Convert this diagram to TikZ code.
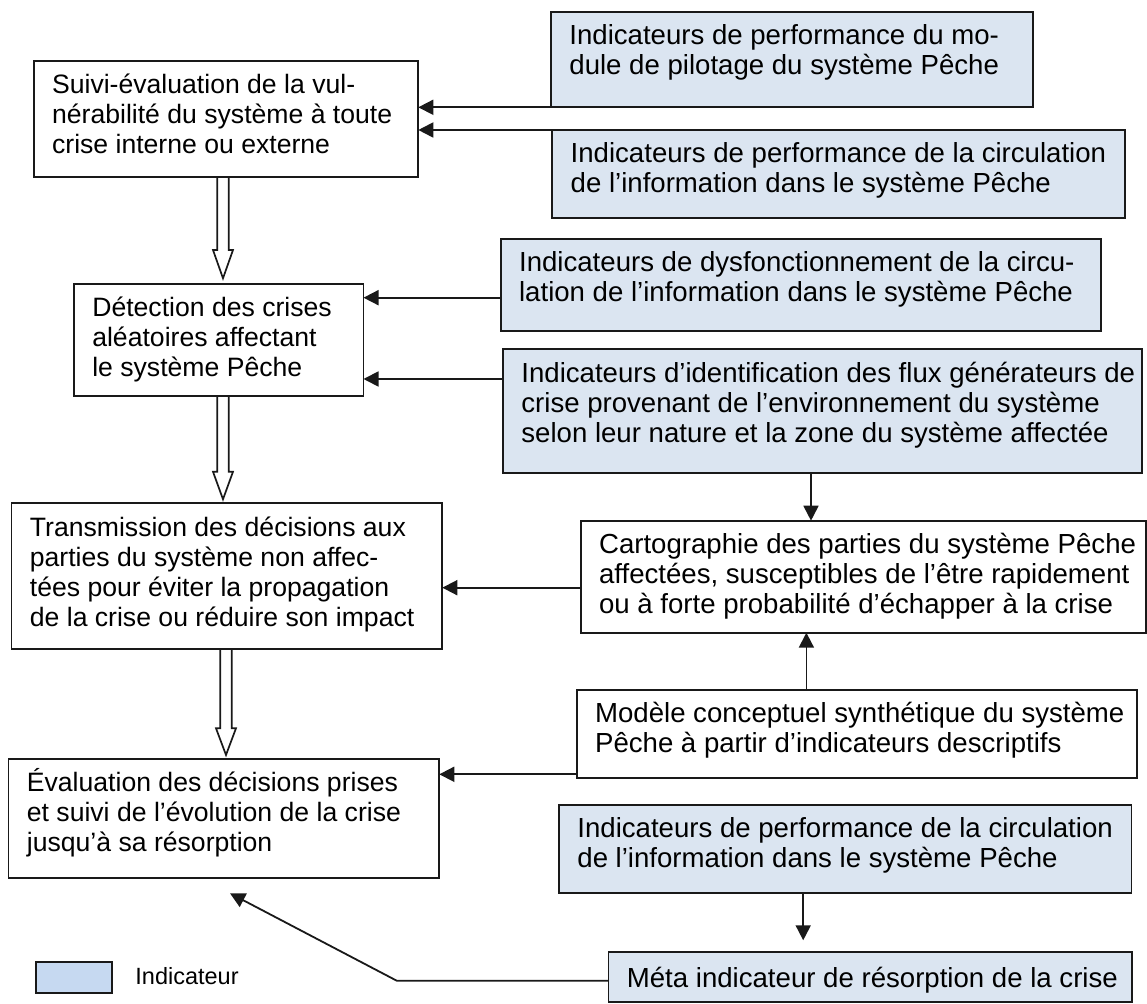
\documentclass[tikz,border=0pt]{standalone}
\usepackage{fontspec}
\setmainfont{Liberation Sans}
\usetikzlibrary{arrows.meta,calc,fit,backgrounds}
\definecolor{indblue}{RGB}{219,229,241}
\definecolor{legblue}{RGB}{198,217,241}
\definecolor{edge}{RGB}{25,25,25}
\newcommand{\boxtext}[1]{\parbox[t]{330pt}{\raggedright #1}}
\begin{document}
\begin{tikzpicture}[x=0.5pt,y=-0.5pt,
  box/.style={draw=edge, line width=0.95pt, inner sep=0pt, outer sep=0pt, fill=white},
  ibox/.style={box, fill=indblue},
  lbox/.style={box, fill=legblue},
  txt/.style={anchor=base west, inner sep=0pt, font=\fontsize{13.3}{15}\selectfont},
  rtxt/.style={anchor=base west, inner sep=0pt, font=\fontsize{13.8}{15}\selectfont},
  ltxt/.style={anchor=base west, inner sep=0pt, font=\fontsize{11.75}{14}\selectfont},
  arr/.style={-{Triangle[length=7.5pt,width=7.5pt]}, line width=0.9pt, draw=edge},
  dbl/.style={draw=edge, fill=white, line width=0.85pt, line join=miter}]
\useasboundingbox (0,0) rectangle (1147,1004);

% left column
\node[box, fit={(33.7,61) (418.3,176.7)}] (S) {};
\node[txt] (St) at ($(S.north west)+(18,33)$) {\boxtext{Suivi-évaluation de la vul-\\nérabilité du système à toute\\crise interne ou externe}};
\node[box, fit={(73.9,283.7) (363.5,395.7)}] (Dt) {};
\node[txt] (Dtt) at ($(Dt.north west)+(18,33)$) {\boxtext{Détection des crises\\aléatoires affectant\\le système Pêche}};
\node[box, fit={(11.5,503.3) (442.3,649.3)}] (Tr) {};
\node[txt] (Trt) at ($(Tr.north west)+(18,33)$) {\boxtext{Transmission des décisions aux\\parties du système non affec-\\tées pour éviter la propagation\\de la crise ou réduire son impact}};
\node[box, fit={(8.5,759) (439.3,878.3)}] (Ev) {};
\node[txt] (Evt) at ($(Ev.north west)+(18,33)$) {\boxtext{Évaluation des décisions prises\\et suivi de l’évolution de la crise\\jusqu’à sa résorption}};

% right column
\node[ibox, fit={(551,11.7) (1033.3,107.3)}] (A) {};
\node[rtxt] (At) at ($(A.north west)+(18,33)$) {\boxtext{Indicateurs de performance du mo-\\dule de pilotage du système Pêche}};
\node[ibox, fit={(552.3,130) (1125,218.3)}] (B) {};
\node[rtxt] (Bt) at ($(B.north west)+(18,33)$) {\boxtext{Indicateurs de performance de la circulation\\de l’information dans le système Pêche}};
\node[ibox, fit={(500.7,239) (1100.7,330.7)}] (C) {};
\node[rtxt] (Ct) at ($(C.north west)+(18,33)$) {\boxtext{Indicateurs de dysfonctionnement de la circu-\\lation de l’information dans le système Pêche}};
\node[ibox, fit={(503,349.3) (1141.7,472.7)}] (D) {};
\node[rtxt] (Dtx) at ($(D.north west)+(18,33)$) {\boxtext{Indicateurs d’identification des flux générateurs de\\crise provenant de l’environnement du système\\selon leur nature et la zone du système affectée}};
\node[box, fit={(580.7,520.7) (1146,632.7)}] (E) {};
\node[rtxt] (Et) at ($(E.north west)+(18,33)$) {\boxtext{Cartographie des parties du système Pêche\\affectées, susceptibles de l’être rapidement\\ou à forte probabilité d’échapper à la crise}};
\node[box, fit={(576.7,690) (1136.7,778.3)}] (F) {};
\node[rtxt] (Ft) at ($(F.north west)+(18,33)$) {\boxtext{Modèle conceptuel synthétique du système\\Pêche à partir d’indicateurs descriptifs}};
\node[ibox, fit={(559,805) (1131.5,893.3)}] (G) {};
\node[rtxt] (Gt) at ($(G.north west)+(18,33)$) {\boxtext{Indicateurs de performance de la circulation\\de l’information dans le système Pêche}};
\node[ibox, fit={(608.5,952.3) (1132,1002)}] (H) {};
\node[rtxt] (Ht) at ($(H.north west)+(18,35)$) {\boxtext{Méta indicateur de résorption de la crise}};

% legend
\node[lbox, fit={(36,961.7) (111.7,993.3)}] (L) {};
\node[ltxt] (Lt) at (135,985) {Indicateur};

% double (hollow) arrows
\begin{scope}[on background layer]
\draw[dbl] (217.25,0 |- S.south) -- (217.25,250) -- (213,250) -- (223,278.3) -- (233,250) -- (228.75,250) -- (228.75,0 |- S.south);
\draw[dbl] (217.25,0 |- Dt.south) -- (217.25,471.7) -- (213,471.7) -- (223,499.3) -- (233,471.7) -- (228.75,471.7) -- (228.75,0 |- Dt.south);
\draw[dbl] (220.25,0 |- Tr.south) -- (220.25,728.3) -- (216,728.3) -- (226,755) -- (236,728.3) -- (231.75,728.3) -- (231.75,0 |- Tr.south);
\end{scope}

% single arrows
\draw[arr] (A.south west) -- (A.south west -| S.east);
\draw[arr] (B.north west) -- (B.north west -| S.east);
\coordinate (c1) at ($(C.north west)+(0,58.7)$);
\draw[arr] (c1) -- (c1 -| Dt.east);
\coordinate (d1) at ($(D.north west)+(0,29.7)$);
\draw[arr] (d1) -- (d1 -| Dt.east);
\coordinate (d2) at ($(D.south west)+(308,0)$);
\draw[arr] (d2) -- (d2 |- E.north);
\coordinate (e1) at ($(E.north west)+(0,67)$);
\draw[arr] (e1) -- (e1 -| Tr.east);
\coordinate (f1) at ($(F.north west)+(229.7,0)$);
\draw[arr] (f1) -- (f1 |- E.south);
\coordinate (f2) at ($(F.north west)+(0,84.3)$);
\draw[arr] (f2) -- (f2 -| Ev.east);
\coordinate (g1) at ($(G.south west)+(244.2,0)$);
\draw[arr, shorten >=6pt] (g1) -- (g1 |- H.north);
\coordinate (h1) at ($(H.north west)+(0,28.4)$);
\coordinate (hb) at (396.7,980.7);
\coordinate (ht) at (230,893.3);
\draw[arr] (h1) -- (hb) -- (ht);
\end{tikzpicture}
\end{document}
